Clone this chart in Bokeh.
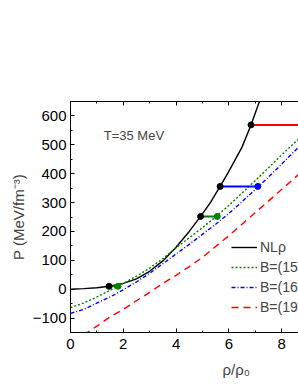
from bokeh.plotting import figure
from bokeh.models import (Range1d, LinearAxis, SingleIntervalTicker, Label, Title,
                          Legend, LegendItem, ColumnDataSource)
from bokeh.embed import file_html
from bokeh.resources import INLINE

# ---- data ----
nl_x = [0, 0.5, 1.0, 1.46, 2.0, 2.5, 3.0, 3.5, 4.0, 4.5, 4.93, 5.3, 5.67, 6.0, 6.5, 6.84, 7.2]
nl_p = [0, 2, 5, 10, 20, 36, 62, 98, 145, 200, 252, 300, 356, 408, 492, 569, 660]

b150_x = [0, 0.5, 1.0, 1.5, 2.0, 2.5, 3.0, 3.5, 4.0, 4.5, 5.0, 5.5, 6.0, 6.5, 7.0, 7.5, 8.0, 8.7]
b150_p = [-64, -48, -27, -4, 20, 45, 73, 106, 143, 178, 213, 250, 290, 333, 376, 420, 465, 525]

b160_x = [0, 0.5, 1.0, 1.5, 2.0, 2.5, 3.0, 3.5, 4.0, 4.5, 5.0, 5.5, 6.0, 6.5, 7.0, 7.5, 8.0, 8.7]
b160_p = [-84, -70, -48, -27, -2, 25, 55, 88, 122, 155, 190, 225, 262, 303, 345, 388, 433, 497]

b190_x = [0.5, 1.0, 1.5, 2.0, 2.5, 3.0, 3.5, 4.0, 4.5, 5.0, 5.5, 6.0, 6.5, 7.0, 7.5, 8.0, 8.7]
b190_p = [-158, -128, -96, -70, -40, -11, 20, 48, 78, 110, 148, 185, 225, 265, 305, 345, 402]

# mixed-phase (coexistence) segments
mix_start = [1.46, 4.93, 5.67, 6.84]
mix_end = [1.80, 5.56, 7.10, 10.0]
mix_p = [10, 252, 356, 569]
mix_color = ["#008000", "#008000", "#0000ff", "#ff0000"]

legend_labels = ["NL\u03c1", "B=(150 MeV)\u2074", "B=(160 MeV)\u2074", "B=(190 MeV)\u2074"]

FONT = "Liberation Sans"

p = figure(width=298, height=385, output_backend="svg", toolbar_location=None,
           x_range=Range1d(0, 8.64), y_range=Range1d(-150, 650),
           x_axis_type=None, y_axis_type=None,
           min_border_left=70, min_border_right=0, min_border_top=101, min_border_bottom=53)
p.outline_line_color = None
p.xgrid.visible = False
p.ygrid.visible = False
p.background_fill_color = "white"
p.border_fill_color = "white"

def style_axis(ax, labels=True):
    ax.major_tick_in = 4
    ax.major_tick_out = 0
    ax.minor_tick_in = 2
    ax.minor_tick_out = 0
    ax.axis_line_color = "black"
    ax.axis_line_width = 1
    ax.major_tick_line_color = "black"
    ax.minor_tick_line_color = "black"
    ax.major_label_text_font = FONT
    ax.major_label_text_font_size = "15px" if labels else "0px"
    ax.major_label_text_color = "black"

xb = LinearAxis(ticker=SingleIntervalTicker(interval=2, num_minor_ticks=2))
style_axis(xb)
xb.major_label_standoff = 6
p.add_layout(xb, "below")
xt = LinearAxis(ticker=SingleIntervalTicker(interval=2, num_minor_ticks=2))
style_axis(xt, labels=False)
p.add_layout(xt, "above")
yl = LinearAxis(ticker=SingleIntervalTicker(interval=100, num_minor_ticks=2))
style_axis(yl)
yl.major_label_standoff = 4
p.add_layout(yl, "left")

r_nl = p.line(nl_x, nl_p, line_color="black", line_width=1.4)
r_150 = p.line(b150_x, b150_p, line_color="#008000", line_width=1.4, line_dash="2 2")
r_160 = p.line(b160_x, b160_p, line_color="#0000ff", line_width=1.4, line_dash="4 2 1 2")
r_190 = p.line(b190_x, b190_p, line_color="#ff0000", line_width=1.4, line_dash="7 5")

src = ColumnDataSource(dict(x0=mix_start, x1=mix_end, y=mix_p, c=mix_color))
p.segment(x0="x0", y0="y", x1="x1", y1="y", line_color="c", line_width=2, source=src)
p.scatter(x="x1", y="y", color="c", size=6, source=src)
p.scatter(x="x0", y="y", color="black", size=6, source=src)

legend = Legend(items=[LegendItem(label=legend_labels[0], renderers=[r_nl]),
                       LegendItem(label=legend_labels[1], renderers=[r_150]),
                       LegendItem(label=legend_labels[2], renderers=[r_160]),
                       LegendItem(label=legend_labels[3], renderers=[r_190])],
                location=(161, 16), padding=0, margin=0, spacing=2,
                glyph_width=26, glyph_height=18, label_height=18, label_standoff=3,
                border_line_alpha=0, background_fill_alpha=0,
                label_text_font=FONT, label_text_font_size="14px")
p.add_layout(legend, "center")

p.add_layout(Label(x=1.26, y=533, text="T=35 MeV", text_font=FONT, text_font_size="13px",
                   text_baseline="middle", text_align="left"))

p.add_layout(Title(text="\u03c1/\u03c1\u2080", align="left", offset=152, standoff=15,
                   text_font=FONT, text_font_size="15px", text_font_style="normal"), "below")
p.add_layout(Title(text="P (MeV/fm\u207b\u00b3)", align="center", offset=0, standoff=5,
                   text_font=FONT, text_font_size="15px", text_font_style="normal"), "left")

open("out.html", "w").write(file_html(p, INLINE))
